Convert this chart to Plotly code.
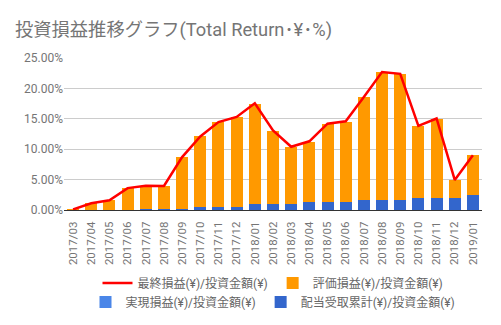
import plotly.graph_objects as go

months = ["2017/03", "2017/04", "2017/05", "2017/06", "2017/07", "2017/08", "2017/09",
          "2017/10", "2017/11", "2017/12", "2018/01", "2018/02", "2018/03", "2018/04",
          "2018/05", "2018/06", "2018/07", "2018/08", "2018/09", "2018/10", "2018/11",
          "2018/12", "2019/01"]

# 最終損益(¥)/投資金額(¥)  (%)
total_pct = [0.1, 1.1, 1.6, 3.6, 4.0, 3.95, 8.7, 12.1, 14.45, 15.3, 17.55, 13.1, 10.4,
             11.3, 14.2, 14.6, 18.6, 22.7, 22.4, 13.85, 15.05, 4.95, 9.0]
# 評価損益(¥)/投資金額(¥)  (%)
unrealized_pct = [0.1, 1.1, 1.6, 3.6, 3.8, 3.75, 8.5, 11.55, 13.85, 14.75, 16.45, 11.95,
                  9.25, 9.83, 12.83, 13.13, 16.9, 21.0, 20.7, 11.77, 12.92, 2.87, 6.48]
# 実現損益(¥)/投資金額(¥)  (%)
realized_pct = [0.0] * 23
# 配当受取累計(¥)/投資金額(¥)  (%)
dividend_pct = [0.0, 0.0, 0.0, 0.0, 0.2, 0.2, 0.2, 0.55, 0.55, 0.55, 1.05, 1.05, 1.05,
                1.37, 1.37, 1.37, 1.7, 1.7, 1.7, 2.03, 2.03, 2.03, 2.52]

def frac(a):
    return [v / 100 for v in a]

FONT = "Roboto, 'Noto Sans CJK JP', sans-serif"
GRAY = "#757575"

fig = go.Figure()
fig.add_trace(go.Bar(x=months, y=frac(dividend_pct), name="配当受取累計(¥)/投資金額(¥)",
                     marker=dict(color="#3366cc", line=dict(width=0)),
                     legend="legend2", legendrank=2))
fig.add_trace(go.Bar(x=months, y=frac(realized_pct), name="実現損益(¥)/投資金額(¥)",
                     marker=dict(color="#4a86e8", line=dict(width=0)),
                     legend="legend2", legendrank=1))
fig.add_trace(go.Bar(x=months, y=frac(unrealized_pct), name="評価損益(¥)/投資金額(¥)",
                     marker=dict(color="#ff9900", line=dict(width=0)),
                     legend="legend", legendrank=2))
fig.add_trace(go.Scatter(x=months, y=frac(total_pct), name="最終損益(¥)/投資金額(¥)",
                         mode="lines", line=dict(color="#ff0000", width=2.5),
                         legend="legend", legendrank=1))

leg_common = dict(orientation="h", x=0.5, xanchor="center", yref="container",
                  yanchor="middle", font=dict(family=FONT, size=12, color="#666666"),
                  itemwidth=30, bgcolor="rgba(0,0,0,0)", traceorder="normal")

fig.update_layout(
    width=501, height=325,
    margin=dict(l=64, r=19, t=58, b=115, autoexpand=False),
    barmode="stack", bargap=0.34,
    plot_bgcolor="white", paper_bgcolor="white",
    font=dict(family=FONT, color=GRAY),
    title=dict(text="投資損益推移グラフ(Total Return･¥･%)", x=15 / 501, xanchor="left",
               xref="container", y=1 - 30 / 325, yanchor="middle", yref="container",
               font=dict(family=FONT, size=18.3, color=GRAY)),
    legend=dict(y=1 - 283 / 325, **leg_common),
    legend2=dict(y=1 - 302 / 325, **leg_common),
    xaxis=dict(type="category", tickangle=-90, tickfont=dict(size=11.5, color=GRAY),
               showgrid=False, showline=False, ticks="outside", ticklen=6,
               tickcolor="rgba(0,0,0,0)", automargin=False),
    yaxis=dict(range=[0, 0.25], tickformat=".2%", dtick=0.05,
               tickfont=dict(size=12, color=GRAY), gridcolor="#cccccc",
               zeroline=True, zerolinecolor="#333333", zerolinewidth=1,
               showline=False, ticks="", automargin=False),
)

fig.write_html("out.html")
